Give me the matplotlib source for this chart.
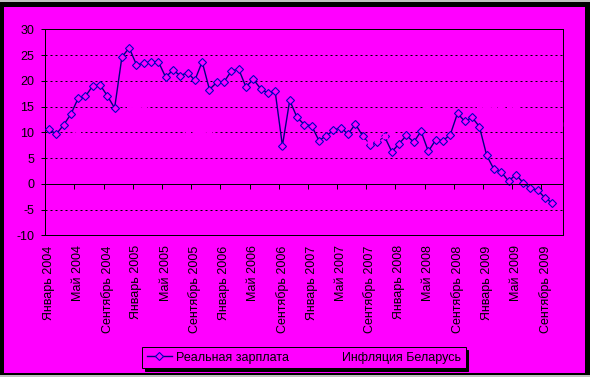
import matplotlib
matplotlib.use("Agg")
import matplotlib.pyplot as plt
import numpy as np
from matplotlib.patches import Rectangle

plt.rcParams['font.family'] = ['Liberation Sans', 'DejaVu Sans']
plt.rcParams['lines.scale_dashes'] = False

months = ["Январь", "Февраль", "Март", "Апрель", "Май", "Июнь", "Июль",
          "Август", "Сентябрь", "Октябрь", "Ноябрь", "Декабрь"]
years = [2004, 2005, 2006, 2007, 2008, 2009]
categories = [f"{m} {y}" for y in years for m in months][:71]

wage = [10.6, 9.65, 11.4, 13.5, 16.6, 17.0, 19.0, 19.2, 17.1, 14.7, 24.6, 26.4,
        23.1, 23.4, 23.7, 23.7, 20.7, 22.1, 21.0, 21.6, 20.1, 23.7, 18.3, 19.7,
        19.8, 21.9, 22.3, 18.8, 20.3, 18.5, 17.6, 18.0, 7.4, 16.2, 12.9, 11.5,
        11.3, 8.4, 9.3, 10.4, 10.9, 9.65, 11.6, 9.3, 7.6, 8.2, 9.2, 6.2,
        7.8, 9.4, 8.1, 10.2, 6.3, 8.5, 8.4, 9.5, 13.7, 12.1, 12.9, 11.1,
        5.5, 2.8, 2.3, 0.5, 1.8, 0.2, -0.9, -1.2, -2.8, -3.7]

inflation = [8.2, 8.0, 8.6, 9.5, 10.5, 11.2, 11.8, 12.3, 12.8, 13.1, 13.8, 14.6,
             15.0, 14.6, 13.9, 13.2, 12.5, 11.8, 11.0, 10.4, 10.1, 10.0, 9.8, 9.4,
             8.8, 8.2, 7.7, 7.3, 7.0, 6.8, 6.6, 6.4, 6.0, 6.3, 6.6, 6.8,
             6.9, 7.0, 7.1, 7.4, 7.6, 7.8, 8.0, 8.2, 8.0, 8.6, 9.3, 10.2,
             11.0, 11.8, 12.8, 14.2, 15.3, 16.2, 16.8, 17.0, 16.8, 16.2, 15.5, 15.1,
             14.7, 15.0, 15.2, 15.0, 14.9, 14.4, 13.8, 13.2, 12.6, 12.1, 11.6]

yticks = [-10, -5, 0, 5, 10, 15, 20, 25, 30]
label_step = 4

MAG = '#FF00FF'
W, H = 590, 377
fig = plt.figure(figsize=(W / 100, H / 100), dpi=100)
fig.patch.set_facecolor('#c0c0c0')

def px_rect(x0, y0, x1, y1, color, z):
    # pixel coords from top-left
    fig.add_artist(Rectangle((x0 / W, 1 - y1 / H), (x1 - x0) / W, (y1 - y0) / H,
                             transform=fig.transFigure, facecolor=color,
                             edgecolor='none', zorder=z))

px_rect(0, 2, W, 375, 'black', -10)
px_rect(4, 7, 585, 373, MAG, -9)

left, right, top, bottom = 45.3, 563.3, 29.3, 235.3
rect = [left / W, 1 - bottom / H, (right - left) / W, (bottom - top) / H]
ax = fig.add_axes(rect)
ax.set_facecolor(MAG)

x = np.arange(len(categories))
xw = np.arange(len(wage))
xi = np.arange(len(inflation))

xlim = (-0.5, len(categories) - 0.5)
ax.set_xlim(*xlim)
ax.set_ylim(yticks[0], yticks[-1])
ax.set_yticks(yticks)
ax.set_yticklabels([str(v) for v in yticks])

for v in yticks:
    if v not in (yticks[0], 0, yticks[-1]):
        ax.axhline(v, color='black', lw=0.72, linestyle=(0, (1.44, 2.16)), zorder=1)

lw_px = 0.72
ln_w, = ax.plot(xw, wage, color='#000080', lw=1.0, marker='D', ms=4.2,
                mfc=MAG, mec='#0000C0', mew=0.8, zorder=3, label='Реальная зарплата')
ln_i, = ax.plot(xi, inflation, color=MAG, lw=1.0, marker='s', ms=3.0,
                mfc=MAG, mec=MAG, zorder=4, label='Инфляция Беларусь')

for s in ax.spines.values():
    s.set_color('black')
    s.set_linewidth(lw_px)

ax.tick_params(axis='y', direction='out', length=3, width=lw_px, pad=5,
               labelsize=9, colors='black')
lab_idx = x[::label_step]
ax.set_xticks(lab_idx)
ax.set_xticklabels([categories[i] for i in lab_idx], rotation=90, fontsize=9,
                   va='top', ha='center')
ax.tick_params(axis='x', length=0, pad=7.2)

# category axis crossing at zero, with tick marks between categories
ax2 = fig.add_axes(rect, zorder=ax.get_zorder() + 1)
ax2.set_xlim(*xlim)
ax2.set_ylim(yticks[0], yticks[-1])
ax2.patch.set_visible(False)
for k in ('top', 'left', 'right'):
    ax2.spines[k].set_visible(False)
ax2.spines['bottom'].set_position(('data', 0))
ax2.spines['bottom'].set_linewidth(lw_px)
ax2.set_xticks(np.arange(-0.5, len(categories), label_step))
ax2.set_xticklabels([])
ax2.tick_params(axis='x', direction='out', length=3.4, width=lw_px)
ax2.set_yticks([])

leg = fig.legend(handles=[ln_w, ln_i], loc='center', ncol=2,
                 bbox_to_anchor=(304 / W, 1 - 357.5 / H), fontsize=9,
                 frameon=True, fancybox=False, facecolor=MAG, edgecolor='black',
                 framealpha=1, shadow={'color': 'black', 'alpha': 1},
                 handlelength=2.0, handletextpad=0.3, columnspacing=2.0,
                 borderpad=0.35, borderaxespad=0)
leg.get_frame().set_linewidth(lw_px)

fig.savefig('out.png', dpi=100, facecolor=fig.get_facecolor())
